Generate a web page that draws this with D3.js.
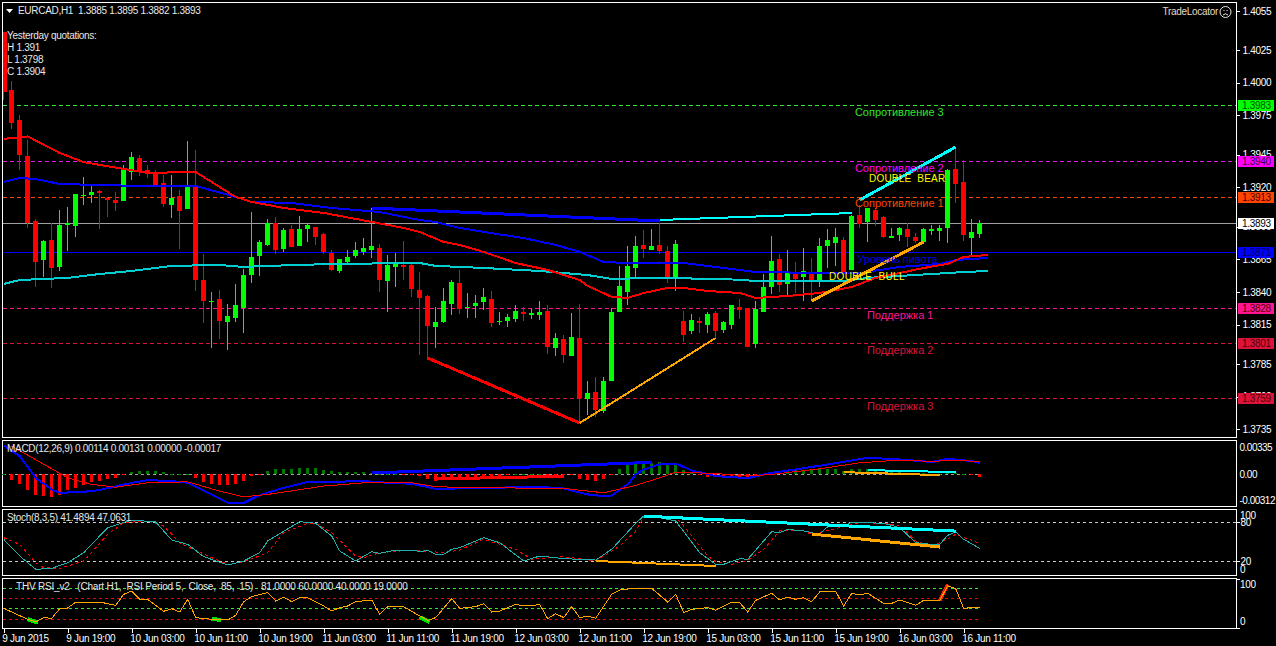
<!DOCTYPE html>
<html><head><meta charset="utf-8">
<style>
html,body{margin:0;padding:0;background:#000;overflow:hidden}
svg{display:block}
text{font-family:"Liberation Sans",Arial,sans-serif;font-size:10px;letter-spacing:-.3px}
</style>
<script src="https://cdn.jsdelivr.net/npm/d3@7/dist/d3.min.js"></script>
</head><body><svg id="c" width="1276" height="646"></svg>
<script>
// ---------- data ----------
const open=[1.40389,1.39945,1.39716,1.39440,1.38943,1.38645,1.38798,1.38591,1.38913,1.38905,1.39134,1.39142,1.39172,1.39119,1.39104,1.39096,1.39318,1.39425,1.39333,1.39302,1.39234,1.39066,1.39134,1.39035,1.39211,1.38492,1.38325,1.38347,1.38172,1.38202,1.38278,1.38530,1.38676,1.38760,1.38928,1.38730,1.38882,1.38752,1.38882,1.38897,1.38844,1.38699,1.38561,1.38630,1.38676,1.38707,1.38722,1.38737,1.38485,1.38592,1.38607,1.38607,1.38416,1.38370,1.38133,1.38172,1.38309,1.38469,1.38278,1.38294,1.38324,1.38347,1.38172,1.38179,1.38194,1.38248,1.38225,1.38225,1.38255,1.37973,1.38041,1.37912,1.38049,1.37582,1.37636,1.37491,1.37720,1.38248,1.38401,1.38584,1.38760,1.38722,1.38760,1.38714,1.38500,1.38179,1.38103,1.38179,1.38148,1.38240,1.38110,1.38148,1.38286,1.38278,1.38003,1.38248,1.38438,1.38653,1.38462,1.38538,1.38515,1.38553,1.38485,1.38752,1.38775,1.38798,1.38569,1.38989,1.38935,1.39027,1.38973,1.38813,1.38836,1.38882,1.38821,1.38783,1.38867,1.38867,1.38890,1.39341,1.39242,1.38813,1.38844];
const close=[1.39930,1.39693,1.39448,1.38928,1.38630,1.38790,1.38584,1.38913,1.38928,1.39149,1.39142,1.39165,1.39157,1.39104,1.39081,1.39333,1.39432,1.39318,1.39302,1.39211,1.39073,1.39119,1.39019,1.39219,1.38492,1.38332,1.38332,1.38179,1.38217,1.38301,1.38530,1.38668,1.38783,1.38928,1.38722,1.38875,1.38745,1.38882,1.38913,1.38821,1.38707,1.38569,1.38653,1.38668,1.38722,1.38737,1.38752,1.38492,1.38607,1.38622,1.38592,1.38424,1.38355,1.38141,1.38172,1.38332,1.38477,1.38270,1.38286,1.38317,1.38363,1.38164,1.38179,1.38210,1.38255,1.38233,1.38240,1.38248,1.37981,1.38049,1.37919,1.38057,1.37590,1.37628,1.37499,1.37720,1.38248,1.38447,1.38600,1.38752,1.38730,1.38752,1.38714,1.38515,1.38767,1.38072,1.38187,1.38164,1.38233,1.38103,1.38172,1.38301,1.38263,1.37981,1.38270,1.38438,1.38637,1.38454,1.38553,1.38500,1.38561,1.38492,1.38752,1.38798,1.38821,1.38553,1.38981,1.38920,1.39042,1.38951,1.38821,1.38829,1.38890,1.38821,1.38790,1.38882,1.38882,1.38890,1.39333,1.39226,1.38836,1.38859,1.38928];
const high=[1.40389,1.40013,1.39754,1.39563,1.38959,1.38798,1.38928,1.39027,1.39050,1.39149,1.39279,1.39219,1.39180,1.39126,1.39165,1.39372,1.39471,1.39448,1.39372,1.39333,1.39295,1.39295,1.39180,1.39555,1.39486,1.38691,1.38401,1.38416,1.38309,1.38461,1.38577,1.39012,1.38798,1.38959,1.38973,1.38890,1.38913,1.38981,1.38920,1.38897,1.38852,1.38722,1.38653,1.38722,1.38783,1.38813,1.39042,1.38767,1.38684,1.38699,1.38790,1.38630,1.38553,1.38378,1.38286,1.38431,1.38492,1.38569,1.38393,1.38378,1.38431,1.38408,1.38248,1.38233,1.38301,1.38286,1.38270,1.38332,1.38301,1.38087,1.38072,1.38240,1.38309,1.37720,1.37751,1.37751,1.38278,1.38600,1.38752,1.38829,1.38875,1.38882,1.38951,1.38752,1.38798,1.38255,1.38233,1.38210,1.38248,1.38255,1.38179,1.38301,1.38347,1.38278,1.38332,1.38538,1.38829,1.38691,1.38722,1.38630,1.38737,1.38661,1.38813,1.38882,1.38890,1.38821,1.38989,1.39066,1.39042,1.39042,1.38981,1.38890,1.38897,1.38928,1.38852,1.38890,1.38913,1.38913,1.39341,1.39509,1.39410,1.38959,1.38951];
const low=[1.39868,1.39647,1.39333,1.38890,1.38438,1.38515,1.38431,1.38561,1.38714,1.38821,1.39066,1.39081,1.38882,1.38973,1.39019,1.39096,1.39257,1.39287,1.39272,1.39203,1.39050,1.38966,1.38730,1.39035,1.38408,1.38164,1.37973,1.38041,1.37957,1.38172,1.38087,1.38469,1.38523,1.38752,1.38691,1.38707,1.38745,1.38752,1.38783,1.38760,1.38691,1.38561,1.38546,1.38622,1.38661,1.38684,1.38661,1.38401,1.38248,1.38438,1.38492,1.38363,1.37919,1.37896,1.37973,1.38164,1.38225,1.38233,1.38202,1.38202,1.38263,1.38133,1.38148,1.38133,1.38172,1.38179,1.38194,1.38187,1.37927,1.37912,1.37858,1.37912,1.37399,1.37460,1.37445,1.37476,1.37720,1.38248,1.38301,1.38500,1.38661,1.38722,1.38691,1.38469,1.38408,1.38019,1.38080,1.38087,1.38087,1.38041,1.38087,1.38118,1.38194,1.37981,1.37973,1.38248,1.38385,1.38401,1.38370,1.38393,1.38332,1.38332,1.38438,1.38584,1.38600,1.38553,1.38569,1.38890,1.38783,1.38905,1.38813,1.38813,1.38790,1.38745,1.38775,1.38775,1.38836,1.38790,1.38775,1.39081,1.38790,1.38684,1.38813];

const slowMaBars=[0,3,7,10,12,15,18,23,24,29,31,35,40,46,50,52,55,57,60,64,68,72,73,76,78,80,83,85,88,92,94,98,102,106,109,112,115,118,120,123];
const slowMaVals=[1.39571,1.39590,1.39463,1.39394,1.39372,1.39341,1.39310,1.39318,1.39318,1.39127,1.39089,1.39043,1.39005,1.38936,1.38890,1.38859,1.38783,1.38760,1.38707,1.38622,1.38569,1.38492,1.38447,1.38363,1.38355,1.38393,1.38431,1.38431,1.38408,1.38393,1.38355,1.38370,1.38393,1.38438,1.38508,1.38546,1.38584,1.38615,1.38668,1.38684];
const midMaBars=[0,2,4,7,17,24,29,31,36,41,47,52,54,57,60,65,69,72,75,78,81,85,89,94,102,107,112,117,119,123];
const midMaVals=[1.39242,1.39272,1.39264,1.39226,1.39211,1.39211,1.39127,1.39089,1.39081,1.39043,1.39012,1.38951,1.38936,1.38890,1.38859,1.38813,1.38760,1.38707,1.38630,1.38622,1.38622,1.38622,1.38592,1.38553,1.38546,1.38546,1.38592,1.38615,1.38645,1.38661];
const longMaBars=[0,2,8,12,16,21,27,30,33,37,41,52,54,60,67,73,76,81,90,94,102,105,108,116,120,123];
const longMaVals=[1.38462,1.38492,1.38508,1.38538,1.38561,1.38600,1.38607,1.38592,1.38600,1.38607,1.38615,1.38622,1.38600,1.38584,1.38561,1.38530,1.38500,1.38508,1.38500,1.38485,1.38485,1.38485,1.38508,1.38538,1.38553,1.38561];

const levels=[1.3983,1.3940,1.3913,1.3893,1.3871,1.3828,1.3801,1.3759];
const levelColors=["#32e632","#e619e6","#ff4500","#a0a0a0","#0000ff","#ff1493","#dc143c","#dc143c"];
const tagFills=["#00ff00","#ff00ff","#ff4500","#ffffff","#0000ff","#ff1493","#dc143c","#dc143c"];
const levelNames=["Сопротивление 3","Сопротивление 2","Сопротивление 1","Уровень пивота","Поддержка 1","Поддержка 2","Поддержка 3"];
const nameColors=["#2ee62e","#ff00ff","#ff4500","#0000e0","#ff1493","#dc143c","#dc143c"];
const namePrices=[1.39746,1.39318,1.39050,1.38622,1.38194,1.37926,1.37498];
const nameBars=[106.4,106.4,106.4,106.7,107.9,107.9,107.9];

const priceTicks=[1.4055,1.4025,1.4000,1.3975,1.3945,1.3920,1.3890,1.3865,1.3840,1.3815,1.3785,1.3760,1.3735];
const timeBars=[0,8,16,24,32,40,48,56,64,72,80,88,96,104,112,120];
const timeLabels=["9 Jun 2015","9 Jun 19:00","10 Jun 03:00","10 Jun 11:00","10 Jun 19:00","11 Jun 03:00","11 Jun 11:00","11 Jun 19:00","12 Jun 03:00","12 Jun 11:00","12 Jun 19:00","15 Jun 03:00","15 Jun 11:00","15 Jun 19:00","16 Jun 03:00","16 Jun 11:00"];

const hist=[0,-.00069,-.00114,-.00191,-.00256,-.00265,-.00277,-.00252,-.00195,-.00163,-.0013,-.00094,-.00081,-.00061,-.00041,-.00004,.00033,.00041,.00041,.00041,.00024,.00008,.00004,.00008,-.00041,-.00094,-.00122,-.00134,-.0013,-.00122,-.00081,-.0002,-.00004,.00041,.00061,.00061,.00069,.00077,.00077,.00077,.00053,.00041,.00033,.00028,.00028,.00024,.00012,.00004,.00002,.00001,-.00001,-.00004,-.0002,-.00061,-.00081,-.00041,-.0004,-.00035,-.0003,-.00028,-.00025,-.0002,-.00016,-.00012,.00004,.00008,.00008,.00004,-.00004,-.00008,-.00004,-.00012,-.00061,-.00073,-.00081,-.00061,-.00012,.00061,.0011,.00122,.00122,.00134,.00151,.0011,.0011,.00053,.00028,-.00004,-.00028,-.00037,-.00041,-.00033,-.00033,-.00041,-.00028,-.00012,.00028,.00028,.00041,.00049,.00049,.00049,.00061,.00061,.00069,.00041,.00061,.00069,.00061,.00049,.00033,.00028,.00024,.0002,.00016,.00012,.00008,.00008,.00012,.00012,.00004,-.00008,-.00028];
const macdBars=[0,2,4,6,7,10,12,15,18,21,23,26,28,30,32,35,38,41,45,48,51,54,57,61,67,70,73,75,76,78,79,80,82,84,86,89,93,96,99,103,108,112,116,118,121,122];
const macdVals=[.00354,.00224,-.00041,-.00183,-.00224,-.00212,-.00191,-.00122,-.00069,-.00081,-.00102,-.00244,-.00346,-.00346,-.00252,-.00163,-.0009,-.0009,-.00081,-.00102,-.00114,-.00175,-.00171,-.00163,-.00151,-.00171,-.00244,-.00265,-.00256,-.00122,0,.00061,.00122,.00134,.00049,-.0002,-.00045,.0002,.00061,.00122,.00204,.00183,.00151,.00191,.00163,.00142];
const signalBars=[1,8,11,14,18,23,27,30,33,40,45,51,54,61,70,75,79,82,84,89,93,96,102,107,112,116,119,122];
const signalVals=[.00346,-.00041,-.00122,-.00155,-.00102,-.0009,-.00204,-.00273,-.00244,-.00142,-.00102,-.00102,-.00151,-.00163,-.00171,-.00224,-.00134,-.00041,.00028,.00012,-.0002,0,.00069,.00142,.00175,.00159,.00175,.00155];

const stochBars=[0,2,4,6,8,10,13,16,19,21,23,25,28,30,32,33,37,39,41,42,44,46,47,49,51,52,53,54,55,56,57,60,62,65,67,70,74,76,79,80,82,84,87,89,90,92,93,96,97,98,100,102,103,105,106,110,112,114,116,117,118,119,120,122];
const stochVals=[53.3,27.7,7.2,8.7,17.4,32.8,71.3,83.1,80,52.3,45.6,26.7,13.8,20,32.8,50.8,80.5,78,58.5,35.4,20,34.4,31.8,36.9,36.9,34.4,36.4,30.3,30.3,38,40.5,55.9,48.2,20,27.7,23.6,21.5,38,78,89.2,86.7,81.5,32.8,14.9,14.9,23.6,22.6,65.1,63.6,68.7,66.2,61,72.8,72.8,80,78,71.3,48.2,45.6,45.6,59.5,64.6,53.3,39.5];
const stochSigBars=[0,2,4,5,7,10,13,15,18,20,22,23,26,28,30,33,35,38,39,41,44,45,47,51,55,57,60,64,66,70,74,77,79,80,84,85,88,89,91,93,95,97,100,101,105,107,110,112,114,116,117,119,122];
const stochSigVals=[55.9,45.6,17.4,9.7,8.7,20,61,79,81.5,73.8,48.2,42,25.1,14.9,18.5,32.8,63.6,78,78,63.6,27.7,25.1,32.8,36.9,32.8,36.9,53.3,38,22.6,26.7,20,43,66,87.7,86.7,73.8,27.7,18.5,14.9,21,38,66.2,66.2,61,72.8,79,78,74.9,50.8,43,48.2,61,47];
const stochLevels=[80,20];

const rsiBars=[0,3,4,5,6,7,8,9,12,14,15,16,17,18,20,21,22,23,24,26,28,29,30,31,33,34,35,36,37,38,40,41,42,43,44,46,47,48,50,52,53,54,56,57,59,60,61,62,64,65,66,67,68,69,70,71,72,73,74,76,77,79,81,83,84,85,86,88,89,91,92,93,94,96,97,98,99,100,101,102,104,105,106,107,108,110,111,112,114,115,117,118,119,120,121,122];
const rsiVals=[39.8,17.6,12.2,21,19.6,39.1,40.5,52.6,52.6,45.9,68.2,74.9,58,58,33.8,39.1,32.4,58,21,17.6,16.2,25.7,53.3,63.4,71.5,54.7,62.1,53.3,61.4,61.4,44.6,34.4,41.2,44.6,53.3,56.7,27.7,43.2,43.2,24.3,15.5,21,59.4,39.8,43.2,49.3,32.4,34.4,47.9,44.6,44.6,47.9,18.9,29,21,43.2,21,24.3,19.6,68.2,76.9,81,80.3,52.6,68.2,31,37.8,41.2,35.8,52.6,51.3,32.4,56,70.2,56.7,62.8,58,61.4,53.3,72.9,74.2,44.6,70.2,66.8,70.2,50,50,56.7,45.9,56,56,85,79.6,39.8,41.2,41];
const rsiLevels=[81,60,40,19];
const rsiLevelColors=["#32e632","#ff0000","#32e632","#ff0000"];

// trend lines: [bar, value, bar, value, colour, width]
const priceTrends=[[46,1.39042,82,1.38943,"#0000ff",3],[82,1.38951,106,1.39004,"#00ffff",2],[53,1.37896,72,1.37399,"#ff0000",3],[72,1.37399,89,1.38049,"#ffa500",2],[101,1.38332,115,1.38783,"#ffa500",3],[107,1.39104,119,1.39509,"#00ffff",3]];
const macdTrends=[[46,.00018,81,.00148,"#0000ff",3],[54,-.00055,70,-.00022,"#ff0000",3],[105,.00028,117,-.00008,"#ffa500",2],[108,.00053,119,.00028,"#00ffff",2]];
const stochTrends=[[80,89,119,66,"#00ffff",3],[101,61.5,117,41.5,"#ffa500",3],[74,20,89,12.3,"#ffa500",2]];
const rsiMarks=[[3,17.6,4.3,11,"#00e000",4],[26,18.5,27.2,16,"#00e000",4],[52,22,53.2,12,"#00e000",4],[117,56,118,88,"#ff2000",3.5]];

const macdTicks=[.00335,0,-.00312];
const macdTickLabels=["0.00335","0.00","-0.00312"];
// ---------- drawing ----------
const svg=d3.select("#c");
const W=1236;
const panes=[[2,437],[440,506],[509,575],[578,628]];
const x=d3.scaleLinear().domain([0,122]).range([3.7,979.7]);
const yP=d3.scaleLinear().domain([1.3983,1.3759]).range([105,398]);
const yM=d3.scaleLinear().domain([.00335,-.00312]).range([447,500]);
const yS=d3.scaleLinear().domain([100,0]).range([509,574]);
const yR=d3.scaleLinear().domain([100,0]).range([578.6,628]);
svg.append("rect").attr("width",1276).attr("height",646).attr("fill","#000");
panes.forEach(p=>svg.append("rect").attr("x",2.5).attr("y",p[0]+.5).attr("width",W-2).attr("height",p[1]-p[0]).attr("fill","none").attr("stroke","#fff").attr("shape-rendering","crispEdges"));

const crisp=g=>g.attr("shape-rendering","crispEdges");
function poly(g,bars,vals,y,col,w,dash){
  const l=d3.line().x((d,i)=>x(bars[i])).y(d=>y(d));
  const p=g.append("path").attr("d",l(vals)).attr("fill","none").attr("stroke",col).attr("stroke-width",w).attr("shape-rendering","crispEdges");
  if(dash)p.attr("stroke-dasharray",dash);
}
function hline(g,v,y,col,x2,dash){
  const yy=Math.round(y(v))+.5;
  const l=g.append("line").attr("x1",3).attr("x2",x2).attr("y1",yy).attr("y2",yy).attr("stroke",col).attr("shape-rendering","crispEdges");
  if(dash)l.attr("stroke-dasharray",dash);
}
function trends(g,arr,y){arr.forEach(t=>g.append("line").attr("x1",x(t[0])).attr("y1",y(t[1])).attr("x2",x(t[2])).attr("y2",y(t[3])).attr("stroke",t[4]).attr("stroke-width",t[5]).attr("shape-rendering","crispEdges"));}

// main pane
const gMain=svg.append("g");
levels.forEach((v,i)=>hline(gMain,v,yP,levelColors[i],W,(i==3||i==4)?null:"4,3"));
const gC=gMain.append("g").call(crisp);
const idx=d3.range(open.length);
gC.selectAll("rect.w").data(idx).join("rect").attr("class","w").attr("x",i=>Math.floor(x(i))).attr("width",1)
 .attr("y",i=>Math.round(yP(high[i]))).attr("height",i=>Math.max(1,Math.round(yP(low[i]))-Math.round(yP(high[i]))))
 .attr("fill",i=>close[i]>=open[i]?"#00ff00":"#ff0000");
gC.selectAll("rect.b").data(idx).join("rect").attr("class","b").attr("x",i=>Math.max(3,Math.floor(x(i))-2)).attr("width",i=>i==0?4:5)
 .attr("y",i=>Math.round(yP(Math.max(open[i],close[i])))).attr("height",i=>Math.max(1,Math.round(yP(Math.min(open[i],close[i])))-Math.round(yP(Math.max(open[i],close[i])))))
 .attr("fill",i=>close[i]>=open[i]?"#00ff00":"#ff0000");
poly(gMain,longMaBars,longMaVals,yP,"#00ced1",2);
poly(gMain,midMaBars,midMaVals,yP,"#0000ff",2);
poly(gMain,slowMaBars,slowMaVals,yP,"#ff0000",2);
trends(gMain,priceTrends,yP);

// chart texts
const txt=(s,xx,yy,c,extra)=>{const t=svg.append("text").attr("x",xx).attr("y",yy).attr("fill",c).text(s);if(extra)extra(t);return t;};
levelNames.forEach((n,i)=>txt(n,x(nameBars[i]),yP(namePrices[i]),nameColors[i],t=>t.style("font-size","11px").style("letter-spacing","0")));
txt("DOUBLE  BEAR",869,182,"#ffff00",t=>t.style("letter-spacing",".2px").style("white-space","pre"));
txt("DOUBLE  BULL",829,280,"#ffff00",t=>t.style("letter-spacing",".35px").style("white-space","pre"));
txt("EURCAD,H1  1.3885 1.3895 1.3882 1.3893",18,14,"#e8e8e8",t=>t.style("white-space","pre"));
svg.append("path").attr("d","M6 9L13 9L9.5 13Z").attr("fill","#fff");
["Yesterday quotations:","H 1.391","L 1.3798","C 1.3904"].forEach((s,i)=>txt(s,7,39+i*12,"#e8e8e8"));
txt("TradeLocator",1218,15,"#e8d8c0",t=>t.attr("text-anchor","end"));
const face=svg.append("g").attr("transform","translate(1225.5,12)").attr("fill","none").attr("stroke","#e8e8e8");
face.append("circle").attr("r",5.5);
face.append("path").attr("d","M-2.5 3Q0 0.5 2.5 3");
face.append("path").attr("d","M-2-1.5h1M1-1.5h1");

// axes
function styleAxis(g){g.select(".domain").attr("stroke","#fff").attr("shape-rendering","crispEdges");g.selectAll(".tick line").attr("stroke","#fff").attr("shape-rendering","crispEdges");g.selectAll("text").attr("fill","#fff").style("font-size","10px");}
const axP=svg.append("g").attr("transform",`translate(${W+.5},0)`).call(d3.axisRight(yP).tickValues(priceTicks).tickFormat(d3.format(".4f")).tickSize(3).tickSizeOuter(0).tickPadding(3));
axP.select(".domain").remove();axP.call(styleAxis);
// level tags
const gTag=svg.append("g");
levels.forEach((v,i)=>{const yy=Math.round(yP(v));
  gTag.append("rect").attr("x",1238).attr("y",yy-5).attr("width",36).attr("height",11).attr("fill",tagFills[i]).attr("shape-rendering","crispEdges");
  gTag.append("text").attr("x",1242).attr("y",yy+4).attr("fill",i==3?"#000":(i==0?"#005000":(i==1?"#400040":(i==4?"#000060":"#500000")))).text(v.toFixed(4));
});
const axT=svg.append("g").attr("transform","translate(0,628.5)").call(d3.axisBottom(x).tickValues(timeBars).tickFormat((d,i)=>timeLabels[i]).tickSize(4).tickSizeOuter(0).tickPadding(2));
axT.select(".domain").remove();axT.call(styleAxis);axT.selectAll("text").attr("text-anchor","start").attr("dx","-2");

// MACD pane
const gM=svg.append("g");
hline(gM,0,yM,"#a0a0a0",980,"3,3");
gM.append("g").call(crisp).selectAll("rect").data(hist).join("rect")
 .attr("x",(d,i)=>Math.floor(x(i))-1).attr("width",3)
 .attr("y",d=>Math.min(yM(d),yM(0))).attr("height",d=>Math.max(1,Math.abs(yM(d)-yM(0))))
 .attr("fill",d=>d>=0?"#007a00":"#ff0000");
poly(gM,macdBars,macdVals,yM,"#0000ff",2);
poly(gM,signalBars,signalVals,yM,"#ff0000",1);
trends(gM,macdTrends,yM);
txt("MACD(12,26,9) 0.00114 0.00131 0.00000 -0.00017",7,452,"#e8e8e8");
const axM=svg.append("g").attr("transform",`translate(${W+.5},0)`).call(d3.axisRight(yM).tickValues(macdTicks).tickFormat((d,i)=>macdTickLabels[i]).tickSize(0).tickPadding(3));
axM.select(".domain").remove();axM.call(styleAxis);axM.selectAll("text").style("letter-spacing","-.5px");

// Stochastic pane
const gS=svg.append("g");
stochLevels.forEach(v=>hline(gS,v,yS,"#c8c8c8",W,"3,3"));
poly(gS,stochSigBars,stochSigVals,yS,"#ff0000",1,"3,3");
poly(gS,stochBars,stochVals,yS,"#20b2aa",1);
trends(gS,stochTrends,yS);
txt("Stoch(8,3,5) 41.4894 47.0631",7,521,"#e8e8e8");
const axS=svg.append("g").attr("transform",`translate(${W+.5},0)`).call(d3.axisRight(yS).tickValues(stochLevels).tickFormat(d3.format("d")).tickSize(3).tickSizeOuter(0).tickPadding(1));
axS.select(".domain").remove();axS.call(styleAxis);
txt("100",1240,519,"#fff");txt("0",1240,573,"#fff");

// RSI pane
const gR=svg.append("g");
rsiLevels.forEach((v,i)=>hline(gR,v,yR,rsiLevelColors[i],980,"3,3"));
trends(gR,rsiMarks,yR);
poly(gR,rsiBars,rsiVals,yR,"#ffa500",1);
txt("THV RSI_v2   (Chart H1,  RSI Period 5,  Close,  85,  15)   81.0000 60.0000 40.0000 19.0000",16,590,"#e8e8e8",t=>t.style("white-space","pre").style("letter-spacing","-.2px"));
txt("100",1240,588,"#fff");txt("0",1240,625,"#fff");
const axR=svg.append("g").attr("transform",`translate(${W+.5},0)`).call(d3.axisRight(yR).tickValues([100,0]).tickFormat(()=>"").tickSize(3).tickSizeOuter(0));
axR.select(".domain").remove();axR.call(styleAxis);
</script></body></html>
